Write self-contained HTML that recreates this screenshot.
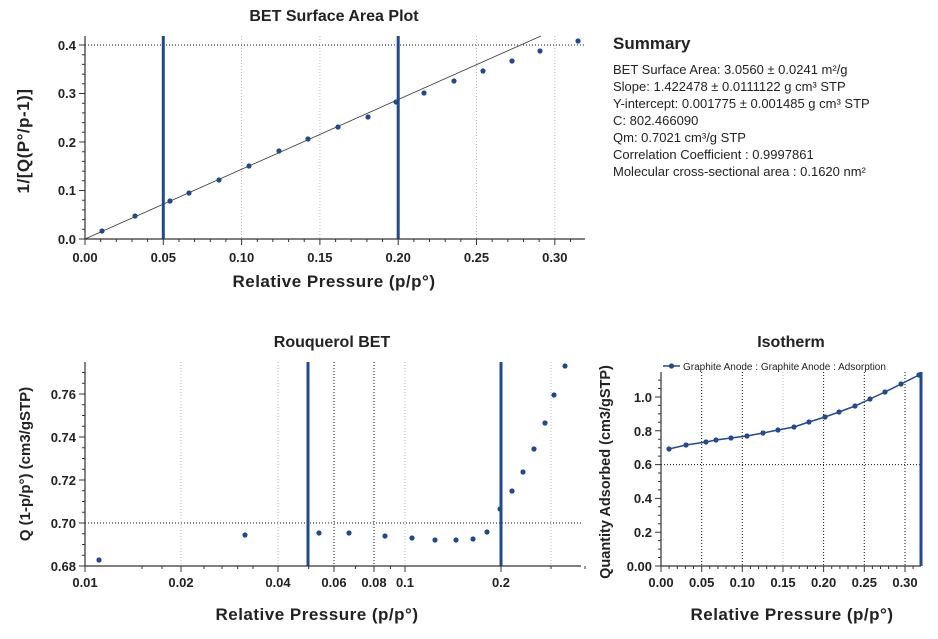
<!DOCTYPE html>
<html><head><meta charset="utf-8"><style>
html,body{margin:0;padding:0;background:#fff}
svg{display:block}
text{font-family:"Liberation Sans",sans-serif;fill:#222}
.b{font-weight:bold}
.t{font-size:13px;font-weight:bold}
.ax{font-weight:bold;font-size:17px;letter-spacing:0.5px}
</style></head><body>
<svg width="938" height="639" viewBox="0 0 938 639" xmlns="http://www.w3.org/2000/svg">
<!-- ===== Chart 1 ===== -->
<text x="334" y="21" class="b" font-size="16" text-anchor="middle">BET Surface Area Plot</text>
<g stroke="#bbb" stroke-width="1" stroke-dasharray="1,2">
<path d="M241.6 36V239M319.9 36V239M476.5 36V239M554.8 36V239"/>
</g>
<path d="M85 45H585" stroke="#111" stroke-dasharray="1,2"/>
<path d="M85 239L541 36" stroke="#333" stroke-width="0.8"/>
<path d="M163.3 36V239M398.2 36V239" stroke="#1f4a8f" stroke-width="3"/>
<path d="M85 36V239H585" stroke="#333" stroke-width="1.2" fill="none"/>
<path d="M85 239v6M163.3 239v6M241.6 239v6M319.9 239v6M398.2 239v6M476.5 239v6M554.8 239v6
M100.7 239v3M116.3 239v3M132 239v3M147.6 239v3M179 239v3M194.6 239v3M210.3 239v3M225.9 239v3M257.3 239v3M272.9 239v3M288.6 239v3M304.2 239v3M335.6 239v3M351.2 239v3M366.9 239v3M382.5 239v3M413.9 239v3M429.5 239v3M445.2 239v3M460.8 239v3M492.2 239v3M507.8 239v3M523.5 239v3M539.1 239v3M570.5 239v3
M85 239h-6M85 190.5h-6M85 142h-6M85 93.5h-6M85 45h-6
M85 229.3h-3M85 219.6h-3M85 209.9h-3M85 200.2h-3M85 180.8h-3M85 171.1h-3M85 161.4h-3M85 151.7h-3M85 132.3h-3M85 122.6h-3M85 112.9h-3M85 103.2h-3M85 83.8h-3M85 74.1h-3M85 64.4h-3M85 54.7h-3" stroke="#333"/>
<g text-anchor="end">
<text x="76" y="244" class="t">0.0</text><text x="76" y="195" class="t">0.1</text><text x="76" y="147" class="t">0.2</text><text x="76" y="98" class="t">0.3</text><text x="76" y="50" class="t">0.4</text>
</g>
<g text-anchor="middle">
<text x="85" y="262" class="t">0.00</text><text x="163.3" y="262" class="t">0.05</text><text x="241.6" y="262" class="t">0.10</text><text x="319.9" y="262" class="t">0.15</text><text x="398.2" y="262" class="t">0.20</text><text x="476.5" y="262" class="t">0.25</text><text x="554.8" y="262" class="t">0.30</text>
</g>
<text x="334" y="287" class="ax" text-anchor="middle">Relative Pressure (p/p°)</text>
<text transform="translate(29,141) rotate(-90)" class="ax" text-anchor="middle">1/[Q(P°/p-1)]</text>
<g fill="#1f4a8f">
<circle cx="102" cy="231" r="2.6"/><circle cx="135" cy="216" r="2.6"/><circle cx="170" cy="201" r="2.6"/><circle cx="189" cy="193" r="2.6"/><circle cx="219" cy="180" r="2.6"/><circle cx="249" cy="166" r="2.6"/><circle cx="279" cy="151" r="2.6"/><circle cx="308" cy="139" r="2.6"/><circle cx="338" cy="127" r="2.6"/><circle cx="368" cy="117" r="2.6"/><circle cx="396" cy="102" r="2.6"/><circle cx="424" cy="93" r="2.6"/><circle cx="454" cy="81" r="2.6"/><circle cx="483" cy="71" r="2.6"/><circle cx="512" cy="61" r="2.6"/><circle cx="540" cy="51" r="2.6"/><circle cx="578" cy="41" r="2.6"/>
</g>
<!-- Summary -->
<text x="613" y="49" class="b" font-size="17">Summary</text>
<g font-size="13">
<text x="613" y="74">BET Surface Area: 3.0560 ± 0.0241 m²/g</text>
<text x="613" y="91">Slope: 1.422478 ± 0.0111122 g cm³ STP</text>
<text x="613" y="108">Y-intercept: 0.001775 ± 0.001485 g cm³ STP</text>
<text x="613" y="125">C: 802.466090</text>
<text x="613" y="142">Qm: 0.7021 cm³/g STP</text>
<text x="613" y="159">Correlation Coefficient : 0.9997861</text>
<text x="613" y="176">Molecular cross-sectional area : 0.1620 nm²</text>
</g>
<!-- ===== Chart 2 ===== -->
<text x="332" y="347" class="b" font-size="16" text-anchor="middle">Rouquerol BET</text>
<path d="M181 362V566M278 362V566M405 362V566M551 362V566" stroke="#bbb" stroke-dasharray="1,2"/>
<path d="M334 362V566M374 362V566M85 523H581" stroke="#111" stroke-dasharray="1,2"/>
<path d="M308 362V566M501 362V566" stroke="#1f4a8f" stroke-width="3"/>
<path d="M85 362V566H581" stroke="#333" stroke-width="1.2" fill="none"/>
<path d="M85 566v6M181 566v6M278 566v6M334 566v6M374 566v6M405 566v6M501 566v6M237.7 566v3M308.7 566v3M355.4 566v3M390.4 566v3M551 566v3M142 566v3M162 566v3M204 566v3M222 566v3M253 566v3M585 566v3
M85 566h-6M85 523h-6M85 480h-6M85 437h-6M85 394h-6
M85 555.25h-3M85 544.5h-3M85 533.75h-3M85 512.25h-3M85 501.5h-3M85 490.75h-3M85 469.25h-3M85 458.5h-3M85 447.75h-3M85 426.25h-3M85 415.5h-3M85 404.75h-3M85 383.25h-3M85 372.5h-3" stroke="#333"/>
<g text-anchor="end">
<text x="76" y="571" class="t">0.68</text><text x="76" y="528" class="t">0.70</text><text x="76" y="485" class="t">0.72</text><text x="76" y="442" class="t">0.74</text><text x="76" y="399" class="t">0.76</text>
</g>
<g text-anchor="middle">
<text x="85" y="587" class="t">0.01</text><text x="181" y="587" class="t">0.02</text><text x="278" y="587" class="t">0.04</text><text x="334" y="587" class="t">0.06</text><text x="374" y="587" class="t">0.08</text><text x="405" y="587" class="t">0.1</text><text x="501" y="587" class="t">0.2</text>
</g>
<text x="317" y="620" class="ax" text-anchor="middle">Relative Pressure (p/p°)</text>
<text transform="translate(30,464) rotate(-90)" class="b" font-size="15" text-anchor="middle">Q (1-p/p°) (cm3/gSTP)</text>
<g fill="#1f4a8f">
<circle cx="99" cy="560" r="2.6"/><circle cx="245" cy="535" r="2.6"/><circle cx="319" cy="533" r="2.6"/><circle cx="349" cy="533" r="2.6"/><circle cx="385" cy="536" r="2.6"/><circle cx="412" cy="538" r="2.6"/><circle cx="435" cy="540" r="2.6"/><circle cx="456" cy="540" r="2.6"/><circle cx="473" cy="539" r="2.6"/><circle cx="487" cy="532" r="2.6"/><circle cx="500" cy="509" r="2.6"/><circle cx="512" cy="491" r="2.6"/><circle cx="523" cy="472" r="2.6"/><circle cx="534" cy="449" r="2.6"/><circle cx="545" cy="423" r="2.6"/><circle cx="554" cy="395" r="2.6"/><circle cx="565" cy="366" r="2.6"/>
</g>
<!-- ===== Chart 3 ===== -->
<text x="791" y="347" class="b" font-size="16" text-anchor="middle">Isotherm</text>
<path d="M663 366H680" stroke="#1f4a8f" stroke-width="1.5"/><circle cx="671.5" cy="366" r="2.6" fill="#1f4a8f"/>
<text x="683" y="370" font-size="10">Graphite Anode : Graphite Anode : Adsorption</text>
<path d="M783 372V566" stroke="#bbb" stroke-dasharray="1,2"/>
<path d="M701.7 372V566M742.3 372V566M823.6 372V566M864.3 372V566M905 372V566M661 464.6H921" stroke="#111" stroke-dasharray="1,2"/>
<path d="M661 372V566H921" stroke="#333" stroke-width="1.2" fill="none"/>
<path d="M921 372V566" stroke="#1f4a8f" stroke-width="3"/>
<path d="M661 566v6M701.7 566v6M742.3 566v6M783 566v6M823.6 566v6M864.3 566v6M905 566v6
M669.1 566v3M677.3 566v3M685.4 566v3M693.5 566v3M709.8 566v3M717.9 566v3M726 566v3M734.2 566v3M750.4 566v3M758.6 566v3M766.7 566v3M774.8 566v3M791.1 566v3M799.2 566v3M807.4 566v3M815.5 566v3M831.7 566v3M839.9 566v3M848 566v3M856.1 566v3M872.4 566v3M880.5 566v3M888.6 566v3M896.8 566v3M913.1 566v3
M661 566h-6M661 532.2h-6M661 498.4h-6M661 464.6h-6M661 430.8h-6M661 397h-6
M661 557.5h-3M661 549.1h-3M661 540.6h-3M661 523.7h-3M661 515.3h-3M661 506.8h-3M661 489.9h-3M661 481.5h-3M661 473h-3M661 456.1h-3M661 447.7h-3M661 439.2h-3M661 422.3h-3M661 413.9h-3M661 405.4h-3M661 388.5h-3M661 380.1h-3" stroke="#333"/>
<g text-anchor="end">
<text x="652" y="571" class="t">0.00</text><text x="652" y="537" class="t">0.2</text><text x="652" y="503" class="t">0.4</text><text x="652" y="469" class="t">0.6</text><text x="652" y="436" class="t">0.8</text><text x="652" y="402" class="t">1.0</text>
</g>
<g text-anchor="middle">
<text x="661" y="587" class="t">0.00</text><text x="701.7" y="587" class="t">0.05</text><text x="742.3" y="587" class="t">0.10</text><text x="783" y="587" class="t">0.15</text><text x="823.6" y="587" class="t">0.20</text><text x="864.3" y="587" class="t">0.25</text><text x="905" y="587" class="t">0.30</text>
</g>
<text x="792" y="620" class="ax" text-anchor="middle">Relative Pressure (p/p°)</text>
<text transform="translate(610,472) rotate(-90)" class="b" font-size="14.5" text-anchor="middle">Quantity Adsorbed (cm3/gSTP)</text>
<polyline fill="none" stroke="#1f4a8f" stroke-width="1.5" points="669,449 686,445 706,442 716,440 731,438 747,436 763,433 778,430 794,427 809,422 825,417 839,412 855,406 870,399 885,392 901,384 919,375"/>
<g fill="#1f4a8f">
<circle cx="669" cy="449" r="2.6"/><circle cx="686" cy="445" r="2.6"/><circle cx="706" cy="442" r="2.6"/><circle cx="716" cy="440" r="2.6"/><circle cx="731" cy="438" r="2.6"/><circle cx="747" cy="436" r="2.6"/><circle cx="763" cy="433" r="2.6"/><circle cx="778" cy="430" r="2.6"/><circle cx="794" cy="427" r="2.6"/><circle cx="809" cy="422" r="2.6"/><circle cx="825" cy="417" r="2.6"/><circle cx="839" cy="412" r="2.6"/><circle cx="855" cy="406" r="2.6"/><circle cx="870" cy="399" r="2.6"/><circle cx="885" cy="392" r="2.6"/><circle cx="901" cy="384" r="2.6"/><circle cx="919" cy="375" r="2.6"/>
</g>
</svg>
</body></html>
